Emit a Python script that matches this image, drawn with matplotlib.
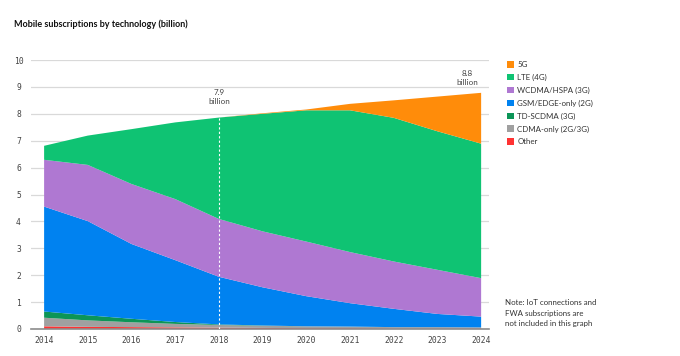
import matplotlib
matplotlib.use("Agg")
import matplotlib.pyplot as plt
from matplotlib.patches import Patch
import numpy as np

years = [2014, 2015, 2016, 2017, 2018, 2019, 2020, 2021, 2022, 2023, 2024]
other = [0.10, 0.08, 0.07, 0.06, 0.05, 0.04, 0.03, 0.03, 0.02, 0.02, 0.02]
cdma = [0.32, 0.24, 0.18, 0.13, 0.10, 0.08, 0.07, 0.06, 0.05, 0.05, 0.04]
tdscdma = [0.23, 0.19, 0.13, 0.07, 0.02, 0.01, 0.0, 0.0, 0.0, 0.0, 0.0]
gsm = [3.90, 3.50, 2.78, 2.30, 1.77, 1.42, 1.12, 0.87, 0.68, 0.49, 0.40]
wcdma = [1.74, 2.09, 2.23, 2.27, 2.15, 2.08, 2.03, 1.90, 1.76, 1.64, 1.43]
lte = [0.52, 1.09, 2.04, 2.85, 3.77, 4.37, 4.88, 5.27, 5.34, 5.15, 5.00]
g5 = [0.0, 0.0, 0.0, 0.0, 0.0, 0.02, 0.03, 0.24, 0.65, 1.29, 1.89]

labels = ["Other", "CDMA-only (2G/3G)", "TD-SCDMA (3G)", "GSM/EDGE-only (2G)",
          "WCDMA/HSPA (3G)", "LTE (4G)", "5G"]
colors = ["#FF3232", "#A0A0A0", "#0C9557", "#0082F0", "#AF78D2", "#0FC373", "#FF8C0A"]
yticks = [0, 1, 2, 3, 4, 5, 6, 7, 8, 9, 10]

title = "Mobile subscriptions by technology (billion)"
note = "Note: IoT connections and\nFWA subscriptions are\nnot included in this graph"

plt.rcParams['font.family'] = ['Lato', 'DejaVu Sans']

fig = plt.figure(figsize=(6.8, 3.56), dpi=100)
ax = fig.add_axes([31/680, 27/356, 458/680, 269/356])

series = [other, cdma, tdscdma, gsm, wcdma, lte, g5]
ax.stackplot(years, *series, colors=colors, linewidth=0, zorder=2)

ax.set_xlim(2013.70, 2024.18)
ax.set_ylim(0, 10)
ax.set_yticks(yticks)
ax.set_xticks(years)
ax.grid(axis='y', color='#D9D9D9', linewidth=0.9, zorder=0)
ax.set_axisbelow(True)
for s in ['left', 'right', 'top']:
    ax.spines[s].set_visible(False)
ax.spines['bottom'].set_color('#8C8C8C')
ax.spines['bottom'].set_linewidth(1.2)
ax.spines['bottom'].set_zorder(3)
ax.tick_params(axis='both', length=0, labelsize=5.8, labelcolor='#444444')
ax.tick_params(axis='y', pad=9)
ax.tick_params(axis='x', pad=5)
for lab in ax.get_yticklabels() + ax.get_xticklabels():
    lab.set_fontfamily('DejaVu Sans Mono')
for lab in ax.get_yticklabels():
    lab.set_horizontalalignment('center')

totals = np.sum(np.array(series), axis=0)
i18 = years.index(2018)
ax.plot([2018, 2018], [0, totals[i18]], color='white', linewidth=0.8,
        linestyle=(0, (2, 2)), zorder=4)
ax.text(2018, 8.62, "7.9\nbillion", ha='center', va='center', fontsize=5.8,
        color='#444444', linespacing=1.3)
ax.text(2023.68, 9.32, "8.8\nbillion", ha='center', va='center', fontsize=5.8,
        color='#444444', linespacing=1.3)

fig.text(14/680, 1 - 24/356, title, fontsize=6.5, fontweight='bold',
         color='#111111', va='center', ha='left')

handles = [Patch(facecolor=c, edgecolor='none') for c in colors[::-1]]
fig.legend(handles, labels[::-1], loc='upper left',
           bbox_to_anchor=(504/680, 1 - 58/356), frameon=False,
           fontsize=5.7, handlelength=0.85, handleheight=0.85,
           handletextpad=0.45, labelspacing=0.72, borderaxespad=0,
           labelcolor='#333333')

fig.text(505/680, 1 - 299/356, note, fontsize=5.7, color='#333333',
         va='top', ha='left', linespacing=1.6)

fig.savefig("out.png", dpi=100)
